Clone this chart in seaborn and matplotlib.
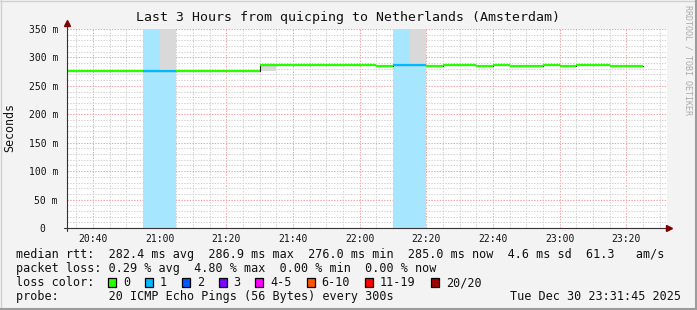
import numpy as np
import pandas as pd
import matplotlib
matplotlib.use("Agg")
import matplotlib.pyplot as plt
from matplotlib.patches import Rectangle
from matplotlib.lines import Line2D
from matplotlib.ticker import MultipleLocator, FixedLocator, FuncFormatter
from matplotlib.colors import to_rgb
import seaborn as sns

# ---------------- data ----------------
title = "Last 3 Hours from quicping to Netherlands (Amsterdam)"
y_label = "Seconds"
x_start, x_end = "20:32:10", "23:32:10"
slot_minutes = 5
slot_start = ["20:30", "20:35", "20:40", "20:45", "20:50", "20:55", "21:00",
              "21:05", "21:10", "21:15", "21:20", "21:25", "21:30", "21:35",
              "21:40", "21:45", "21:50", "21:55", "22:00", "22:05", "22:10",
              "22:15", "22:20", "22:25", "22:30", "22:35", "22:40", "22:45",
              "22:50", "22:55", "23:00", "23:05", "23:10", "23:15", "23:20"]
median_ms = [276.0, 276.0, 276.0, 276.0, 276.0, 276.0, 276.0,
             276.0, 276.0, 276.0, 276.0, 276.0, 286.9, 286.9,
             286.9, 286.9, 286.9, 286.9, 286.9, 285.0, 286.9,
             286.9, 285.0, 286.9, 286.9, 285.0, 286.9, 285.0,
             285.0, 286.9, 285.0, 286.9, 286.9, 285.0, 285.0]
loss_pings = [0, 0, 0, 0, 0, 1, 1,
              0, 0, 0, 0, 0, 0, 0,
              0, 0, 0, 0, 0, 0, 1,
              1, 0, 0, 0, 0, 0, 0,
              0, 0, 0, 0, 0, 0, 0]
smoke_low = [np.nan, np.nan, 276.0, np.nan, np.nan, np.nan, 276.0,
             np.nan, np.nan, np.nan, np.nan, np.nan, 276.0, np.nan,
             np.nan, np.nan, np.nan, np.nan, np.nan, 285.0, np.nan,
             286.9, np.nan, np.nan, np.nan, 285.0, np.nan, np.nan,
             np.nan, np.nan, np.nan, np.nan, np.nan, np.nan, 285.0]
smoke_high = [np.nan, np.nan, 278.0, np.nan, np.nan, np.nan, 420.0,
              np.nan, np.nan, np.nan, np.nan, np.nan, 286.9, np.nan,
              np.nan, np.nan, np.nan, np.nan, np.nan, 287.0, np.nan,
              420.0, np.nan, np.nan, np.nan, 287.0, np.nan, np.nan,
              np.nan, np.nan, np.nan, np.nan, np.nan, np.nan, 287.5]
x_tick_labels = ["20:40", "21:00", "21:20", "21:40", "22:00",
                 "22:20", "22:40", "23:00", "23:20"]
y_max = 350
loss_labels = ["0", "1", "2", "3", "4-5", "6-10", "11-19", "20/20"]
loss_colors = ["#26ff00", "#00b8ff", "#0059ff", "#7e00ff",
               "#ff00ff", "#ff5500", "#ff0000", "#a10000"]
line_rtt = "median rtt:  282.4 ms avg  286.9 ms max  276.0 ms min  285.0 ms now  4.6 ms sd  61.3   am/s"
line_loss = "packet loss: 0.29 % avg  4.80 % max  0.00 % min  0.00 % now"
probe_text = "probe:       20 ICMP Echo Pings (56 Bytes) every 300s"
stamp = "Tue Dec 30 23:31:45 2025"
watermark = "RRDTOOL / TOBI OETIKER"


def to_min(s):
    p = [int(v) for v in s.split(":")]
    return p[0] * 60 + p[1] + (p[2] / 60 if len(p) > 2 else 0)


def loss_bucket(n):
    n = int(n)
    if n <= 3:
        return n
    if n <= 5:
        return 4
    if n <= 10:
        return 5
    if n <= 19:
        return 6
    return 7


df = pd.DataFrame({"t": [to_min(s) for s in slot_start],
                   "median": median_ms, "loss": loss_pings,
                   "lo": smoke_low, "hi": smoke_high})
df["t_end"] = df["t"] + slot_minutes

# ---------------- figure ----------------
sns.set_style("white")
plt.rcParams["font.family"] = ["DejaVu Sans Mono"]
plt.rcParams["lines.scale_dashes"] = False

W, H = 697, 310
BG = "#f3f3f3"
fig = plt.figure(figsize=(W / 100, H / 100), dpi=100, facecolor=BG)
L, R, T, B = 67, 667, 29, 228
ax = fig.add_axes([L / W, 1 - B / H, (R - L) / W, (B - T) / H])
ax.set_facecolor("white")

ax.set_xlim(to_min(x_start), to_min(x_end))
ax.set_ylim(0, y_max)

# grid
ax.set_axisbelow(True)
ax.xaxis.set_major_locator(FixedLocator([to_min(s) for s in x_tick_labels]))
ax.xaxis.set_minor_locator(MultipleLocator(5))
ax.yaxis.set_major_locator(MultipleLocator(50))
ax.yaxis.set_minor_locator(MultipleLocator(10))
ax.grid(which="minor", color="#d2d2d2", linestyle=(0, (1, 1)), linewidth=0.75)
ax.grid(which="major", color="#f2a3a3", linestyle=(0, (1, 1)), linewidth=0.75)

# loss background bands
for r in df[df["loss"] > 0].itertuples():
    c = np.array(to_rgb(loss_colors[loss_bucket(r.loss)]))
    band = tuple(1 - 0.35 * (1 - c))
    ax.axvspan(r.t, r.t_end, color=band, lw=0, zorder=1)

# smoke
sm = df.dropna(subset=["lo"])
ax.bar(sm["t"], sm["hi"] - sm["lo"], bottom=sm["lo"], width=slot_minutes,
       align="edge", color="#d9d9d9", linewidth=0, zorder=2)

# median step line (black), then coloured segments
line_df = pd.concat([df[["t", "median"]],
                     pd.DataFrame({"t": [df["t_end"].iloc[-1]],
                                   "median": [df["median"].iloc[-1]]})],
                    ignore_index=True)
sns.lineplot(data=line_df, x="t", y="median", estimator=None, sort=True,
             drawstyle="steps-post", color="#222222", linewidth=0.8,
             ax=ax, zorder=3)
for r in df.itertuples():
    ax.hlines(r.median, r.t, r.t_end,
              color=loss_colors[loss_bucket(r.loss)], linewidth=1.6,
              zorder=4)

# ticks and labels
def hhmm(v, pos=None):
    v = int(round(v))
    return f"{v // 60:02d}:{v % 60:02d}"


ax.xaxis.set_major_formatter(FuncFormatter(hhmm))
ax.yaxis.set_major_formatter(FuncFormatter(
    lambda v, p: "0  " if v == 0 else f"{int(v)} m"))
ax.tick_params(axis="both", which="major", length=2.5, width=0.7,
               color="#444444", labelsize=7.05, labelcolor="#111111",
               direction="out")
ax.tick_params(axis="both", which="minor", length=1.5, width=0.6,
               color="#444444", direction="out")
ax.tick_params(axis="y", which="major", pad=4.0)
ax.tick_params(axis="x", which="major", pad=2.0)
ax.set_xlabel("")
ax.set_ylabel("")
for s in ax.spines.values():
    s.set_visible(False)

# axis lines with arrows (in pixel -> axes fraction)
fx = lambda px: (px - L) / (R - L)
fy = lambda py: (B - py) / (B - T)
ax.add_line(Line2D([0, 0], [fy(231), fy(24)], transform=ax.transAxes,
                   color="#333333", lw=0.8, clip_on=False, zorder=6))
ax.add_line(Line2D([fx(64), fx(668)], [0, 0], transform=ax.transAxes,
                   color="#333333", lw=0.8, clip_on=False, zorder=6))
ax.plot([0], [fy(23)], marker="^", markersize=4.5, color="#7f0000",
        transform=ax.transAxes, clip_on=False, zorder=7, mec="#7f0000")
ax.plot([fx(669)], [0], marker=">", markersize=4.5, color="#7f0000",
        transform=ax.transAxes, clip_on=False, zorder=7, mec="#7f0000")

# texts
fig.text(348 / W, 1 - 18 / H, title, ha="center", va="center",
         fontsize=9.5, color="#111111")
fig.text(10 / W, 1 - 128 / H, y_label, rotation=90, ha="center",
         va="center", fontsize=8.4, color="#111111")
fig.text(688 / W, 1 - 5 / H, watermark, rotation=-90, ha="center",
         va="top", fontsize=6, color="#ababab")

fs = 8.5
fig.text(16 / W, 1 - 254.5 / H, line_rtt, ha="left", va="center",
         fontsize=fs, color="#111111")
fig.text(16 / W, 1 - 268.5 / H, line_loss, ha="left", va="center",
         fontsize=fs, color="#111111")
fig.text(16 / W, 1 - 282.5 / H, "loss color:", ha="left", va="center",
         fontsize=fs, color="#111111")
fig.text(16 / W, 1 - 296.5 / H, probe_text, ha="left", va="center",
         fontsize=fs, color="#111111")
fig.text(681 / W, 1 - 296.5 / H, stamp, ha="right", va="center",
         fontsize=fs, color="#111111")

bx = 108.3
for lab, col in zip(loss_labels, loss_colors):
    fig.add_artist(Rectangle((bx / W, 1 - 287 / H), 8 / W, 9 / H,
                             transform=fig.transFigure, facecolor=col,
                             edgecolor="black", linewidth=0.9))
    fig.text((bx + 15) / W, 1 - 282.5 / H, lab, ha="left", va="center",
             fontsize=fs, color="#111111")
    bx += 29.5 + 7.25 * len(lab)

# frame
fig.add_artist(Line2D([0, 1], [1 - 0.5 / H] * 2, transform=fig.transFigure,
                      color="#d0d0d0", lw=1))
fig.add_artist(Line2D([0.5 / W] * 2, [0, 1], transform=fig.transFigure,
                      color="#d0d0d0", lw=1))
fig.add_artist(Line2D([0, 1], [1 / H] * 2, transform=fig.transFigure,
                      color="#9c9c9c", lw=1.5))
fig.add_artist(Line2D([1 - 1 / W] * 2, [0, 1], transform=fig.transFigure,
                      color="#9c9c9c", lw=1.5))

fig.savefig("out.png", dpi=100, facecolor=BG)
